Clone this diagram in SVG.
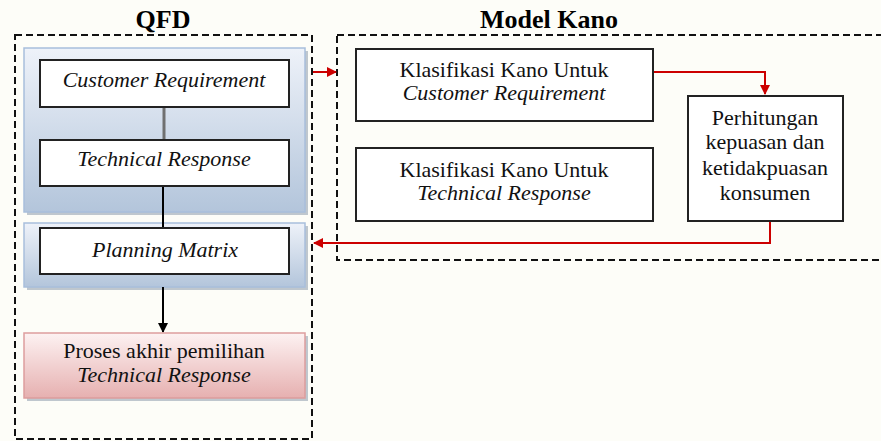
<svg xmlns="http://www.w3.org/2000/svg" width="881" height="441" viewBox="0 0 881 441">
<defs>
<linearGradient id="gBlue" x1="0" y1="0" x2="0" y2="1">
<stop offset="0" stop-color="#eef2f9"/>
<stop offset="1" stop-color="#b3c5db"/>
</linearGradient>
<linearGradient id="gPink" x1="0" y1="0" x2="0" y2="1">
<stop offset="0" stop-color="#fdf2f2"/>
<stop offset="1" stop-color="#e6b0b0"/>
</linearGradient>
<marker id="arrBlack" viewBox="0 0 10 10" refX="9" refY="5" markerWidth="5" markerHeight="5" markerUnits="strokeWidth" orient="auto">
<path d="M0,0 L10,5 L0,10 z" fill="#000"/>
</marker>
<marker id="arrRed" viewBox="0 0 10 10" refX="9" refY="5" markerWidth="5" markerHeight="5" markerUnits="strokeWidth" orient="auto">
<path d="M0,0 L10,5 L0,10 z" fill="#cc0000"/>
</marker>
</defs>
<style>
.title{font-family:"Liberation Serif","Times New Roman",serif;font-weight:bold;font-size:26px;fill:#000;text-anchor:middle}
.t{font-family:"Liberation Serif","Times New Roman",serif;font-size:22px;fill:#111;text-anchor:middle}
.i{font-style:italic}
.dash{fill:none;stroke:#111;stroke-width:2;stroke-dasharray:7,4}
.box{fill:#fff;stroke:#222;stroke-width:2}
.shadow{fill:#8c9aab;opacity:0.55}
.panel{fill:url(#gBlue);stroke:#a8bedb;stroke-width:1.5}
.pink{fill:url(#gPink);stroke:#dd9d9d;stroke-width:1.5}
.red{fill:none;stroke:#cc0000;stroke-width:2}
</style>
<rect x="0" y="0" width="881" height="441" fill="#fdfdf8"/>

<g id="qfd-group">
<text class="title" x="163" y="28">QFD</text>
<rect class="dash" x="15" y="35" width="297" height="404"/>
</g>
<g id="kano-group">
<text class="title" x="549" y="28">Model Kano</text>
<rect class="dash" x="337" y="35" width="560" height="225"/>
</g>

<g id="panel-top">
<rect class="shadow" x="27" y="51" width="281" height="164"/>
<rect class="panel" x="24" y="48" width="281" height="164"/>
</g>
<g id="panel-mid">
<rect class="shadow" x="27" y="226" width="281" height="64"/>
<rect class="panel" x="24" y="223" width="281" height="64"/>
</g>

<g id="connectors">
<line x1="164" y1="107" x2="164" y2="140" stroke="#707070" stroke-width="3"/>
<line x1="163" y1="186" x2="163" y2="228" stroke="#000" stroke-width="2"/>
<line x1="163" y1="287" x2="163" y2="332" stroke="#000" stroke-width="2" marker-end="url(#arrBlack)"/>
<line class="red" x1="313" y1="72" x2="336" y2="72" marker-end="url(#arrRed)"/>
<polyline class="red" points="653,72 765,72 765,94" marker-end="url(#arrRed)"/>
<polyline class="red" points="770,221 770,243 314,243" marker-end="url(#arrRed)"/>
</g>

<g id="node-customer-requirement">
<rect class="box" x="40" y="60" width="249" height="47"/>
<text class="t i" x="164" y="87">Customer Requirement</text>
</g>
<g id="node-technical-response">
<rect class="box" x="40" y="140" width="249" height="46"/>
<text class="t i" x="164" y="166">Technical Response</text>
</g>
<g id="node-planning-matrix">
<rect class="box" x="40" y="228" width="249" height="46"/>
<text class="t i" x="165" y="257">Planning Matrix</text>
</g>
<g id="node-proses-akhir">
<rect class="shadow" x="27" y="336" width="281" height="65"/>
<rect class="pink" x="24" y="333" width="281" height="65"/>
<text class="t" x="164" y="358">Proses akhir pemilihan</text>
<text class="t i" x="164" y="382">Technical Response</text>
</g>

<g id="node-kano-cr">
<rect class="box" x="356" y="49" width="297" height="72"/>
<text class="t" x="504" y="77">Klasifikasi Kano Untuk</text>
<text class="t i" x="504" y="100">Customer Requirement</text>
</g>
<g id="node-kano-tr">
<rect class="box" x="356" y="148" width="297" height="73"/>
<text class="t" x="504" y="177">Klasifikasi Kano Untuk</text>
<text class="t i" x="504" y="200">Technical Response</text>
</g>
<g id="node-perhitungan">
<rect class="box" x="688" y="96" width="155" height="125"/>
<text class="t" x="765" y="125">Perhitungan</text>
<text class="t" x="765" y="149">kepuasan dan</text>
<text class="t" x="765" y="175">ketidakpuasan</text>
<text class="t" x="765" y="200">konsumen</text>
</g>
</svg>
